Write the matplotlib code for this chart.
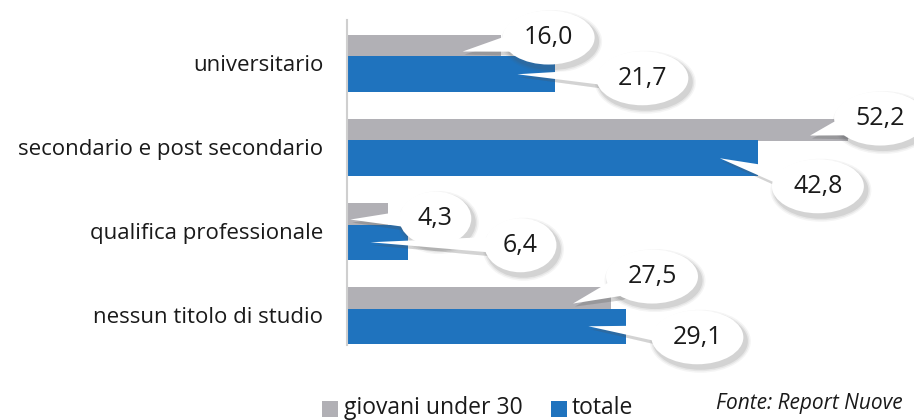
import numpy as np
import matplotlib.pyplot as plt
from matplotlib.patches import Ellipse, Polygon

plt.rcParams['font.family'] = ['Open Sans', 'DejaVu Sans']

# data
categorie = ['universitario', 'secondario e post secondario',
             'qualifica professionale', 'nessun titolo di studio']
giovani = [16.0, 52.2, 4.3, 27.5]
totale = [21.7, 42.8, 6.4, 29.1]

# bubble placement: offset (px) of label centre from the bar end
off_giovani = [(48, 8), (32, 11), (47, -5), (41, 21)]
off_totale = [(87, -4), (60, -28), (112, -3), (71, -11)]

col_giovani = '#b1b0b5'
col_totale = '#1f73be'

fig = plt.figure(figsize=(9.14, 4.2), dpi=100)
W, H = 914, 420
ax = fig.add_axes([347 / W, (H - 345) / H, (W - 347) / W, 325 / H])

y = np.arange(len(categorie))
ax.barh(y - 0.208, giovani, height=0.262, color=col_giovani, zorder=2)
ax.barh(y + 0.134, totale, height=0.423, color=col_totale, zorder=2)
ax.set_xlim(0, (W - 347) / 9.6)
ax.set_ylim(3.357, -0.512)
ax.set_yticks(y)
ax.set_yticklabels(categorie, fontsize=16, color='#1a1a1a')
ax.tick_params(axis='y', length=0, pad=17)
ax.set_xticks([])
for s in ['top', 'right', 'bottom']:
    ax.spines[s].set_visible(False)
ax.spines['left'].set_color('#cfcfcf')
ax.spines['left'].set_linewidth(1.5)

# overlay in pixel coordinates for the callout bubbles
ov = fig.add_axes([0, 0, 1, 1])
ov.set_xlim(0, W)
ov.set_ylim(0, H)
ov.axis('off')
ov.patch.set_alpha(0)


def bolla(val, yc, off, tip_dy):
    ex, ey = ax.transData.transform((val, yc))
    cx, cy = ex + off[0], ey + off[1]
    testo = f'{val:.1f}'.replace('.', ',')
    w = 72 if val < 10 else 92
    h = 54
    tx, ty = ex - 38, ey + tip_dy
    ang = np.arctan2((ty - cy) / (h / 2), (tx - cx) / (w / 2))
    p1 = (cx + w / 2 * np.cos(ang + 0.28), cy + h / 2 * np.sin(ang + 0.28))
    p2 = (cx + w / 2 * np.cos(ang - 0.28), cy + h / 2 * np.sin(ang - 0.28))
    # soft shadow
    for k, a in zip([9, 6, 3], [0.06, 0.09, 0.13]):
        ov.add_patch(Ellipse((cx + 3, cy - 4), w + k, h + k, color='#555555',
                             alpha=a, lw=0, zorder=3))
        ov.add_patch(Polygon([(tx + 2, ty - 3), (p1[0] + 3, p1[1] - 4),
                              (cx + 3, cy - 4), (p2[0] + 3, p2[1] - 4)],
                             closed=True, color='#555555', alpha=a, lw=0, zorder=3))
    ov.add_patch(Polygon([(tx, ty), p1, (cx, cy), p2], closed=True,
                         color='white', lw=0, zorder=4))
    ov.add_patch(Ellipse((cx, cy), w, h, color='white', lw=0, zorder=5))
    ov.text(cx, cy, testo, ha='center', va='center', fontsize=18,
            color='#1a1a1a', zorder=6)


fig.canvas.draw()
for i in range(len(categorie)):
    bolla(giovani[i], y[i] - 0.208, off_giovani[i], -6)
    bolla(totale[i], y[i] + 0.134, off_totale[i], 0)

# legend
ov.add_patch(plt.Rectangle((322, 3), 16, 16, color=col_giovani, lw=0))
ov.text(344, 12, 'giovani under 30', fontsize=16.5, va='center', color='#1a1a1a')
ov.add_patch(plt.Rectangle((551, 3), 16, 16, color=col_totale, lw=0))
ov.text(572, 12, 'totale', fontsize=16.5, va='center', color='#1a1a1a')
ov.text(716, 16, 'Fonte: Report Nuove', fontsize=15, style='italic',
        va='center', color='#1a1a1a')

fig.savefig('out.png', dpi=100)
